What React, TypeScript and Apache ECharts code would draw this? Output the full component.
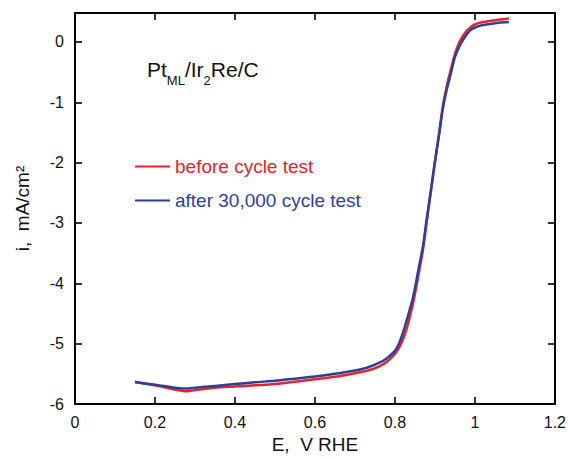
import React, { useEffect, useRef } from "react";
import * as echarts from "echarts";

// Potential E (V vs RHE) and current density i (mA/cm^2)
const E_BEFORE = [0.15, 0.2, 0.25, 0.28, 0.3, 0.35, 0.4, 0.45, 0.5, 0.55, 0.6, 0.65, 0.7, 0.73, 0.76, 0.78, 0.8, 0.81, 0.82, 0.83, 0.845, 0.86, 0.87, 0.88, 0.89, 0.9, 0.91, 0.92, 0.93, 0.94, 0.95, 0.96, 0.97, 0.98, 0.99, 1.0, 1.02, 1.04, 1.06, 1.085];
const I_BEFORE = [-5.63, -5.69, -5.76, -5.79, -5.77, -5.73, -5.71, -5.69, -5.67, -5.63, -5.59, -5.55, -5.49, -5.45, -5.38, -5.3, -5.17, -5.07, -4.93, -4.74, -4.34, -3.82, -3.45, -2.96, -2.47, -2.0, -1.53, -1.06, -0.72, -0.45, -0.2, -0.02, 0.1, 0.19, 0.25, 0.29, 0.33, 0.35, 0.37, 0.39];
const E_AFTER = [0.15, 0.2, 0.25, 0.28, 0.3, 0.35, 0.4, 0.45, 0.5, 0.55, 0.6, 0.65, 0.7, 0.73, 0.76, 0.78, 0.8, 0.81, 0.82, 0.83, 0.845, 0.86, 0.87, 0.88, 0.89, 0.9, 0.91, 0.92, 0.93, 0.94, 0.95, 0.96, 0.97, 0.98, 0.99, 1.0, 1.02, 1.04, 1.06, 1.085];
const I_AFTER = [-5.64, -5.68, -5.73, -5.745, -5.73, -5.7, -5.67, -5.64, -5.615, -5.58, -5.545, -5.5, -5.445, -5.4, -5.32, -5.24, -5.12, -5.0, -4.82, -4.6, -4.24, -3.73, -3.39, -2.91, -2.46, -1.98, -1.56, -1.1, -0.78, -0.52, -0.25, -0.09, 0.03, 0.13, 0.2, 0.24, 0.28, 0.3, 0.32, 0.33];

const SERIES_NAMES = ["before cycle test", "after 30,000 cycle test"];
const X_MIN = 0;
const X_MAX = 1.2;
const Y_MIN = -6;
const Y_MAX = 0.48;

const RED = "#e4232b";
const BLUE = "#2f3f98";
const FONT = "Liberation Sans, Arial, Helvetica, sans-serif";

function frameAxis(extra: any) {
  return {
    type: "value",
    axisLine: { show: true, onZero: false, lineStyle: { color: "#000", width: 2 } },
    axisTick: { show: true, inside: true, length: 7, lineStyle: { color: "#000", width: 1.6 } },
    ...extra,
  };
}

export default function App() {
  const ref = useRef<HTMLDivElement>(null);

  useEffect(() => {
    document.body.style.margin = "0";
    if (!ref.current) return;
    const chart = echarts.init(ref.current, undefined, { renderer: "svg" });

    chart.setOption({
      animation: false,
      backgroundColor: "#fff",
      grid: { left: 75, right: 11, top: 13, bottom: 55 },
      xAxis: [
        frameAxis({
          position: "bottom",
          min: X_MIN,
          max: X_MAX,
          interval: 0.2,
          splitLine: { show: false },
          name: "E,  V RHE",
          nameLocation: "middle",
          nameGap: 24,
          nameTextStyle: { fontSize: 19, color: "#111", fontFamily: FONT },
          axisLabel: {
            margin: 10,
            fontSize: 16,
            color: "#111",
            fontFamily: FONT,
            formatter: (v: number) => String(Math.round(v * 10) / 10),
          },
        }),
        frameAxis({
          position: "top",
          min: X_MIN,
          max: X_MAX,
          interval: 0.2,
          splitLine: { show: false },
          axisLabel: { show: false },
        }),
      ],
      yAxis: [
        frameAxis({
          position: "left",
          min: Y_MIN,
          max: Y_MAX,
          interval: 1,
          splitLine: { show: false },
          name: "i,  mA/cm²",
          nameLocation: "middle",
          nameRotate: 90,
          nameGap: 43,
          nameTextStyle: { fontSize: 19, color: "#111", fontFamily: FONT },
          axisLabel: {
            margin: 11,
            fontSize: 16,
            color: "#111",
            fontFamily: FONT,
            showMaxLabel: false,
            formatter: (v: number) => (Number.isInteger(v) ? String(v) : ""),
          },
        }),
        frameAxis({
          position: "right",
          min: Y_MIN,
          max: Y_MAX,
          interval: 1,
          splitLine: { show: false },
          axisLabel: { show: false },
        }),
      ],
      legend: {
        orient: "vertical",
        left: 130,
        top: 152,
        itemWidth: 35,
        itemHeight: 2,
        itemGap: 15,
        icon: "rect",
        selectedMode: false,
        textStyle: { fontSize: 19, fontFamily: FONT },
        data: [
          { name: SERIES_NAMES[0], textStyle: { color: RED } },
          { name: SERIES_NAMES[1], textStyle: { color: BLUE } },
        ],
      },
      graphic: [
        {
          type: "text",
          left: 147,
          top: 59,
          style: {
            text: "{m|Pt}{s|ML}{m|/Ir}{s|2}{m|Re/C}",
            fill: "#111",
            font: `21px ${FONT}`,
            rich: {
              m: { fontSize: 21, lineHeight: 35, fontFamily: FONT, fill: "#111" },
              s: { fontSize: 13, lineHeight: 13, verticalAlign: "bottom", fontFamily: FONT, fill: "#111" },
            },
          },
        },
      ],
      series: [
        {
          name: SERIES_NAMES[0],
          type: "line",
          xAxisIndex: 0,
          yAxisIndex: 0,
          data: E_BEFORE.map((e, k) => [e, I_BEFORE[k]]),
          showSymbol: false,
          smooth: 0.3,
          lineStyle: { color: RED, width: 2.5 },
          itemStyle: { color: RED },
          z: 2,
        },
        {
          name: SERIES_NAMES[1],
          type: "line",
          xAxisIndex: 0,
          yAxisIndex: 0,
          data: E_AFTER.map((e, k) => [e, I_AFTER[k]]),
          showSymbol: false,
          smooth: 0.3,
          lineStyle: { color: BLUE, width: 2.5 },
          itemStyle: { color: BLUE },
          z: 3,
        },
      ],
    });

    return () => chart.dispose();
  }, []);

  return <div ref={ref} style={{ width: 569, height: 459 }} />;
}
